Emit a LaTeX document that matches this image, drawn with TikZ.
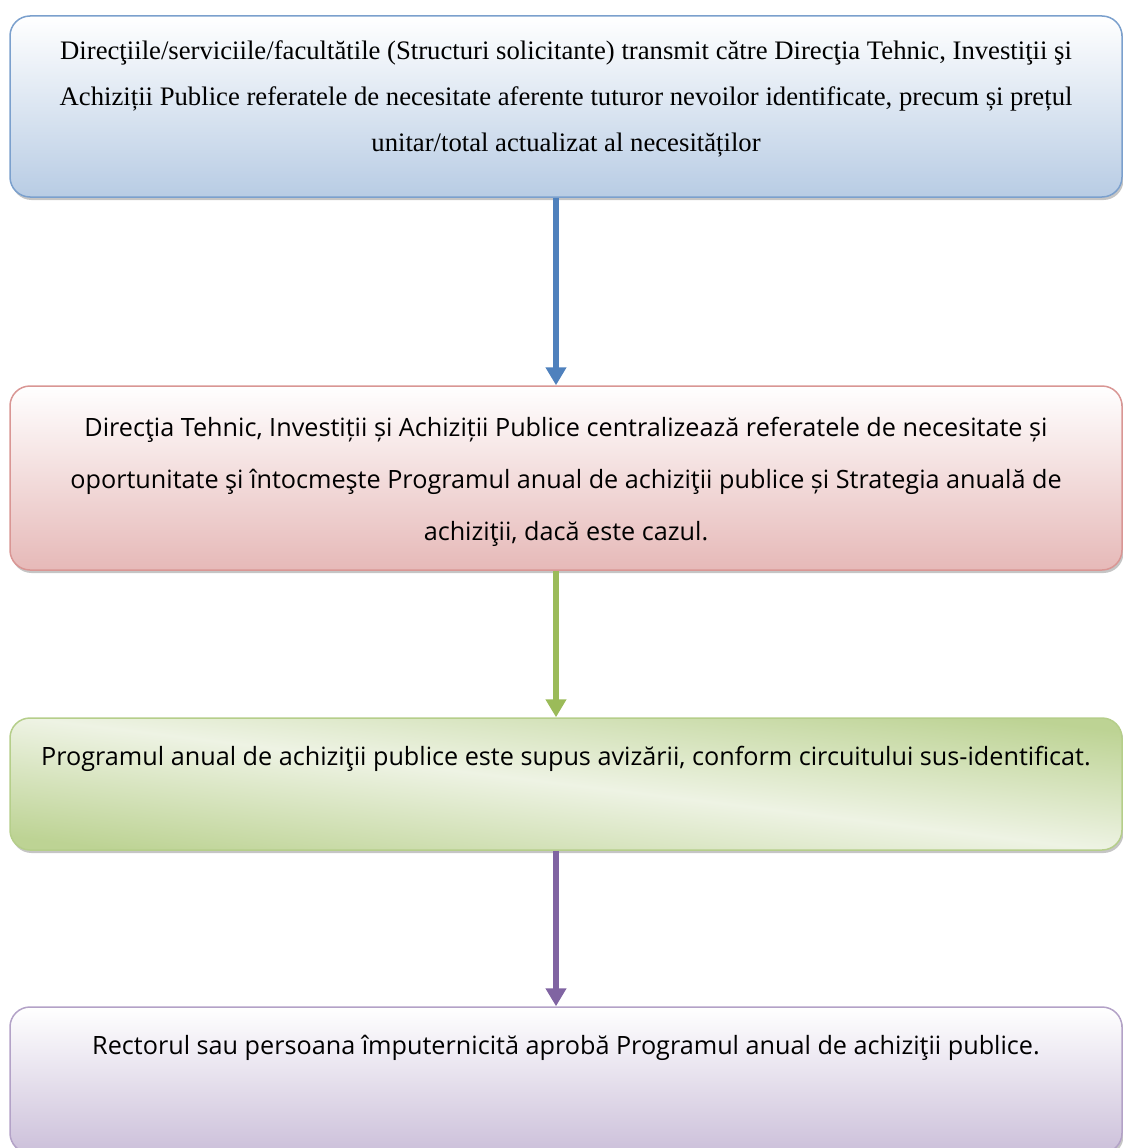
\documentclass[tikz,border=0pt]{standalone}
\usepackage{fontspec}
\setmainfont{Liberation Serif}
\newfontfamily\boxsans{Open Sans}
\usetikzlibrary{positioning,shadows,arrows.meta}
\definecolor{bluebd}{HTML}{7BA0CD}
\definecolor{bluebg}{HTML}{B8CCE4}
\definecolor{bluear}{HTML}{4F81BD}
\definecolor{redbd}{HTML}{D99694}
\definecolor{redbg}{HTML}{E6B9B8}
\definecolor{greenbd}{HTML}{B5CE8A}
\definecolor{greenbg}{HTML}{BDD394}
\definecolor{greenlt}{HTML}{EEF3E4}
\definecolor{greenar}{HTML}{9BBB59}
\definecolor{violetbd}{HTML}{B3A2C7}
\definecolor{violetbg}{HTML}{CCC0DA}
\definecolor{violetar}{HTML}{8064A2}
\tikzset{
  stage/.style={rectangle,rounded corners=20pt,minimum width=1112pt,
    line width=1.5pt,draw=#1bd,
    drop shadow={shadow xshift=1.5pt,shadow yshift=-3pt,fill=black!45}},
  bluestage/.style={stage=blue,top color=white,bottom color=bluebg},
  redstage/.style={stage=red,top color=white,bottom color=redbg},
  greenstage/.style={stage=green,top color=greenbg,bottom color=greenbg,
    middle color=greenlt,shading angle=-7},
  violetstage/.style={stage=violet,top color=white,bottom color=violetbg},
  txt/.style={align=center,inner sep=0pt},
  sans/.style={txt,font=\boxsans\fontsize{25.2}{52}\selectfont},
  flow/.style={line width=6pt,draw=#1,
    -{Triangle[width=20pt,length=18pt,fill=#1]}},
}
\begin{document}
\begin{tikzpicture}[x=1pt,y=-1pt]
  \clip (0,0) rectangle (1123,1148);
  \useasboundingbox (0,0) rectangle (1123,1148);
  % the four stages
  \node[bluestage,minimum height=181pt] (s1) at (566,106.5) {};
  \node[redstage,minimum height=184pt] (s2) at (566,478) {};
  \node[greenstage,minimum height=132pt] (s3) at (566,784) {};
  \node[violetstage,minimum height=146pt] (s4) at (566,1080) {};
  % texts
  \node[txt,font=\fontsize{26.7}{46}\selectfont,below=25pt of s1.north] (t1)
    {Direcţiile/serviciile/facultătile (Structuri solicitante) transmit către Direcţia Tehnic, Investiţii şi\\
     Achiziții Publice referatele de necesitate aferente tuturor nevoilor identificate, precum și prețul\\
     unitar/total actualizat al necesităților};
  \node[sans,below=32pt of s2.north] (t2)
    {Direcţia Tehnic, Investiții și Achiziții Publice centralizează referatele de necesitate și\\
     oportunitate şi întocmeşte Programul anual de achiziţii publice și Strategia anuală de\\
     achiziţii, dacă este cazul.};
  \node[sans,below=29pt of s3.north] (t3)
    {Programul anual de achiziţii publice este supus avizării, conform circuitului sus-identificat.};
  \node[sans,below=29pt of s4.north] (t4)
    {Rectorul sau persoana împuternicită aprobă Programul anual de achiziţii publice.};
  % connectors
  \draw[flow=bluear] ([xshift=-10pt]s1.south) -- ([xshift=-10pt]s2.north);
  \draw[flow=greenar] ([xshift=-10pt]s2.south) -- ([xshift=-10pt]s3.north);
  \draw[flow=violetar] ([xshift=-10pt]s3.south) -- ([xshift=-10pt]s4.north);
\end{tikzpicture}
\end{document}
